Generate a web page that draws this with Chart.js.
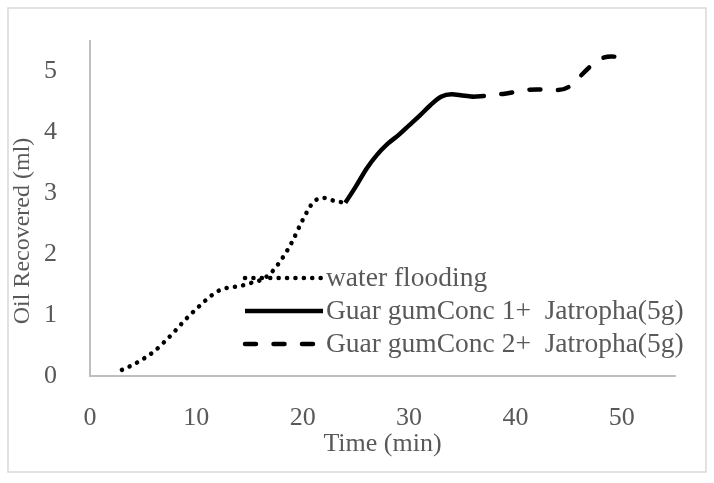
<!DOCTYPE html>
<html>
<head>
<meta charset="utf-8">
<script src="https://cdn.jsdelivr.net/npm/chart.js@4.4.1/dist/chart.umd.min.js"></script>
<style>
  html, body { margin: 0; padding: 0; background: #fff; }
  #wrap { width: 714px; height: 483px; }
</style>
</head>
<body>
<div id="wrap"><canvas id="oilChart" width="714" height="483"></canvas></div>
<script>
const waterTime = [3, 4, 5, 6, 7, 8, 9, 10, 11, 12, 13, 14, 15, 16, 17, 18, 19, 20, 21, 22, 23, 24];
const waterOil  = [0.10, 0.18, 0.28, 0.40, 0.56, 0.74, 0.93, 1.10, 1.26, 1.39, 1.45, 1.47, 1.52, 1.57, 1.69, 1.91, 2.20, 2.56, 2.85, 2.92, 2.87, 2.84];

const conc1Time = [24, 25, 26, 27, 28, 29, 30, 31, 32, 33, 34, 35, 36];
const conc1Oil  = [2.84, 3.11, 3.40, 3.63, 3.81, 3.95, 4.11, 4.27, 4.44, 4.58, 4.62, 4.60, 4.58];

const conc2Time = [36, 37, 38, 39, 40, 41, 42, 43, 44, 45, 46, 47, 48, 49, 50];
const conc2Oil  = [4.58, 4.59, 4.61, 4.63, 4.66, 4.69, 4.70, 4.70, 4.69, 4.74, 4.90, 5.07, 5.20, 5.24, 5.22];

const seriesLabels = ['water flooding', 'Guar gumConc 1+  Jatropha(5g)', 'Guar gumConc 2+  Jatropha(5g)'];
const xTitle = 'Time (min)';
const yTitle = 'Oil Recovered (ml)';

const FONT = '"Liberation Serif", "Times New Roman", serif';
const GREY = '#595959';

const pairs = (xs, ys) => xs.map((x, i) => ({ x, y: ys[i] }));

// outer frame, y title and in-plot legend
const decor = {
  id: 'decor',
  beforeDraw(chart) {
    const c = chart.ctx;
    c.save();
    c.fillStyle = '#fff';
    c.fillRect(0, 0, chart.width, chart.height);
    c.strokeStyle = '#d9d9d9';
    c.lineWidth = 1.5;
    c.strokeRect(8, 8, 698, 464);
    c.restore();
  },
  afterDraw(chart) {
    const c = chart.ctx;
    c.save();
    c.translate(23, 231);
    c.rotate(-Math.PI / 2);
    c.font = '24px ' + FONT;
    c.fillStyle = GREY;
    c.textAlign = 'center';
    c.textBaseline = 'middle';
    c.fillText(yTitle, 0, 0);
    c.restore();

    chart.data.datasets.forEach((ds, i) => {
      const y = 278 + i * 33;
      c.save();
      c.strokeStyle = ds.borderColor;
      c.lineWidth = ds.borderWidth;
      c.lineCap = ds.borderCapStyle || 'butt';
      c.setLineDash(ds.borderDash || []);
      c.beginPath();
      c.moveTo(245, y);
      c.lineTo(323, y);
      c.stroke();
      c.setLineDash([]);
      c.font = '27.5px ' + FONT;
      c.fillStyle = GREY;
      c.textAlign = 'left';
      c.textBaseline = 'middle';
      c.fillText(ds.label, 326, y + 1);
      c.restore();
    });
  }
};

const lineStyle = {
  borderColor: '#000',
  borderWidth: 4.5,
  pointRadius: 0,
  fill: false,
  cubicInterpolationMode: 'monotone',
  borderCapStyle: 'round',
};

new Chart(document.getElementById('oilChart').getContext('2d'), {
  type: 'line',
  data: {
    datasets: [
      { ...lineStyle, label: seriesLabels[0], data: pairs(waterTime, waterOil), borderDash: [0.1, 8.3] },
      { ...lineStyle, label: seriesLabels[1], data: pairs(conc1Time, conc1Oil), borderCapStyle: 'butt' },
      { ...lineStyle, label: seriesLabels[2], data: pairs(conc2Time, conc2Oil), borderDash: [11, 17.5] },
    ]
  },
  options: {
    responsive: false,
    animation: false,
    devicePixelRatio: 1,
    layout: { padding: { left: 0, top: 32, right: 39, bottom: 0 } },
    scales: {
      x: {
        type: 'linear',
        min: 0, max: 55,
        grid: { display: false },
        border: { display: true, color: '#bfbfbf', width: 2 },
        ticks: { stepSize: 10, includeBounds: false, padding: 19, color: GREY, font: { family: FONT, size: 26 } },
        title: { display: true, text: xTitle, color: GREY, font: { family: FONT, size: 26 }, padding: { top: 0, bottom: 23 } },
        afterFit: s => { s.height = 107; }
      },
      y: {
        min: 0, max: 5.5,
        grid: { display: false },
        border: { display: true, color: '#bfbfbf', width: 2 },
        ticks: { stepSize: 1, includeBounds: false, padding: 25, color: GREY, font: { family: FONT, size: 26 } },
        afterFit: s => { s.width = 90; }
      }
    },
    plugins: { legend: { display: false }, tooltip: { enabled: false } }
  },
  plugins: [decor]
});
</script>
</body>
</html>
